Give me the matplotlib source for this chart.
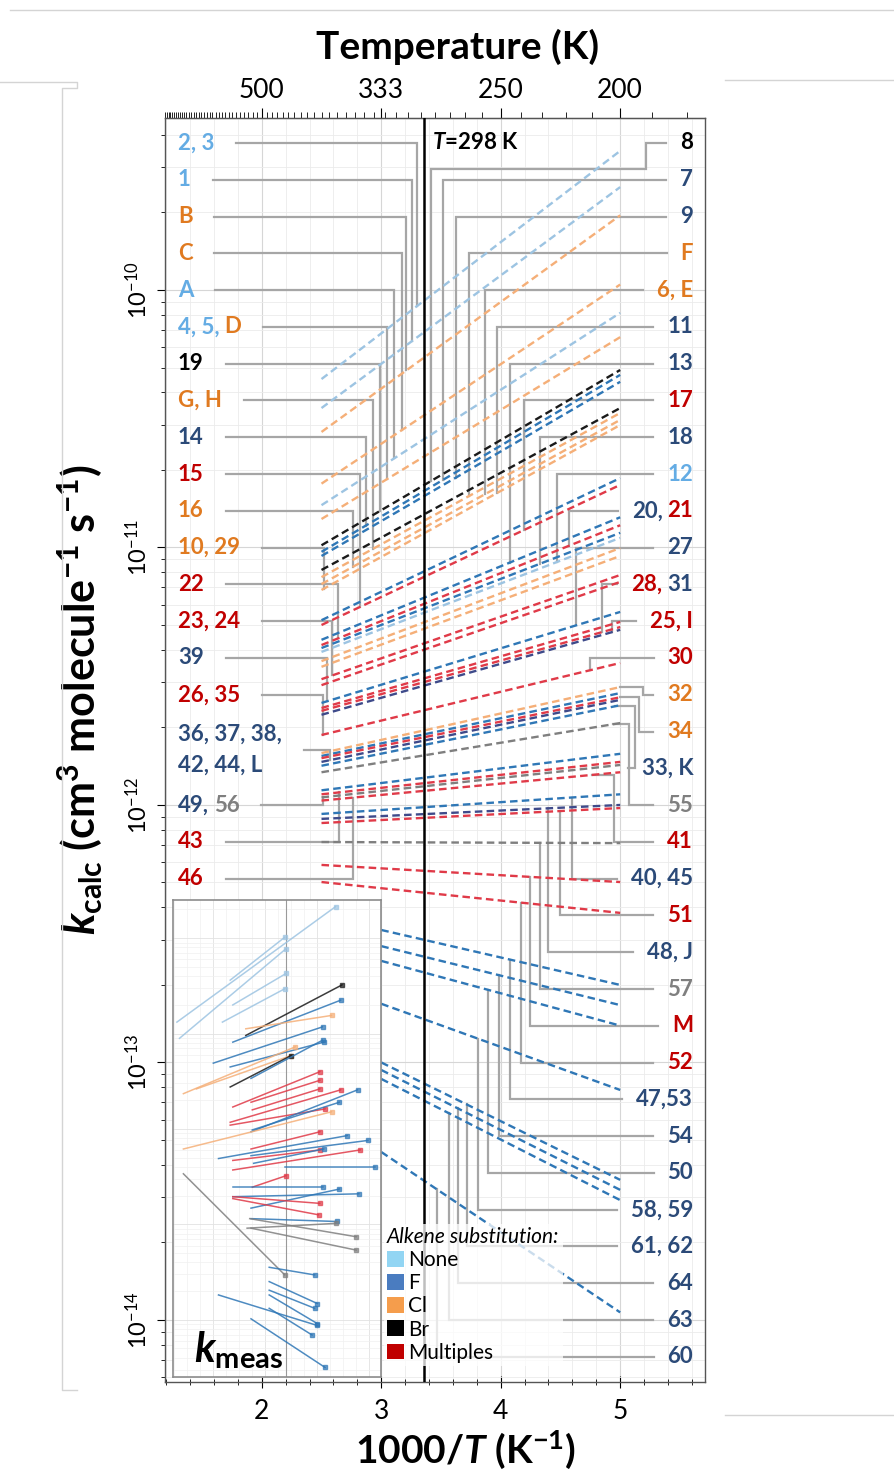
import numpy as np
import matplotlib
matplotlib.use("Agg")
import matplotlib.pyplot as plt
from matplotlib import transforms as mtransforms
from matplotlib.lines import Line2D
from matplotlib.patches import Patch
from matplotlib.ticker import FixedLocator, LogLocator, MultipleLocator, NullFormatter

plt.rcParams["font.family"] = ["Lato", "DejaVu Sans"]
plt.rcParams["mathtext.fontset"] = "custom"
plt.rcParams["mathtext.rm"] = "Lato:bold"
plt.rcParams["mathtext.it"] = "Lato:italic:bold"
plt.rcParams["mathtext.bf"] = "Lato:bold"

# ---- calculated rate coefficients (dashed lines) ----
# warm end temperature (K), k there, and k at 200 K
T_COLD = 200.0
calc_t_warm = [400, 400, 400, 400, 400, 400,
               400, 400, 400, 400, 400, 400, 400,
               400, 400, 400, 400, 400, 400, 400, 400, 400, 400,
               400, 400, 400, 400, 400,
               400, 400, 400, 400, 400, 400,
               400, 400, 400, 400, 400, 400, 400,
               400, 400, 400,
               333.3, 333.3, 333.3, 333.3, 333.3, 333.3, 333.3, 333.3]
calc_k_warm = [4.51e-11, 3.48e-11, 2.81e-11, 1.77e-11, 1.46e-11, 1.29e-11,
               1.02e-11, 9.62e-12, 9.27e-12, 8.18e-12, 7.67e-12, 7.21e-12, 6.84e-12,
               5.22e-12, 5.00e-12, 4.38e-12, 4.18e-12, 4.07e-12, 3.93e-12, 3.62e-12,
               3.44e-12, 3.08e-12, 2.92e-12,
               2.49e-12, 2.38e-12, 2.32e-12, 2.24e-12, 1.87e-12,
               1.59e-12, 1.55e-12, 1.52e-12, 1.47e-12, 1.42e-12, 1.34e-12,
               1.14e-12, 1.10e-12, 1.07e-12, 1.04e-12, 9.23e-13, 8.83e-13, 8.51e-13,
               7.18e-13, 5.85e-13, 5.02e-13,
               3.27e-13, 2.83e-13, 2.48e-13, 1.69e-13, 1.00e-13, 9.35e-14, 8.63e-14, 4.49e-14]
calc_k_cold = [3.47e-10, 2.51e-10, 1.95e-10, 1.05e-10, 8.15e-11, 6.56e-11,
               4.89e-11, 4.68e-11, 4.40e-11, 3.48e-11, 3.33e-11, 3.13e-11, 2.99e-11,
               1.86e-11, 1.75e-11, 1.31e-11, 1.22e-11, 1.14e-11, 1.09e-11, 9.95e-12,
               9.27e-12, 7.82e-12, 7.35e-12,
               5.62e-12, 5.14e-12, 4.91e-12, 4.79e-12, 3.56e-12,
               2.87e-12, 2.72e-12, 2.62e-12, 2.56e-12, 2.44e-12, 2.08e-12,
               1.58e-12, 1.47e-12, 1.43e-12, 1.34e-12, 1.10e-12, 1.00e-12, 9.73e-13,
               7.11e-13, 5.02e-13, 3.81e-13,
               2.00e-13, 1.67e-13, 1.39e-13, 7.82e-14, 3.50e-14, 3.20e-14, 2.92e-14, 1.07e-14]
calc_group = ["N", "N", "Cl", "Cl", "N", "Cl",
              "Br", "F", "F", "Br", "Cl", "Cl", "Cl",
              "F", "M", "F", "M", "F", "N", "Cl", "Cl", "M", "M",
              "F", "M", "M", "D", "M",
              "Cl", "F", "M", "D", "F", "G",
              "F", "M", "G", "M", "F", "D", "M",
              "G", "M", "M",
              "F", "F", "F", "F", "F", "F", "F", "F"]

# ---- measured rate coefficients (inset) ----
ins_x1 = [2.52, 2.54, 2.93, 2.95, 2.87, 3.05, 2.95, 3.05, 2.80, 2.93, 2.57, 2.67,
          2.93, 3.09, 2.95, 3.09, 3.10, 2.93, 2.93, 3.09, 3.10, 2.57, 3.09, 2.84,
          3.09, 2.95, 3.11, 2.95, 3.35, 3.10, 2.95, 3.09, 2.95, 2.95, 2.95, 3.09,
          3.06, 3.08, 3.09, 2.57, 3.23, 3.23, 3.23, 3.23, 2.84, 3.23, 3.09]
ins_x2 = [3.74, 3.36, 3.35, 3.36, 3.35, 3.79, 3.78, 3.71, 3.64, 3.65, 3.43, 3.40,
          3.40, 3.64, 3.62, 3.62, 3.62, 3.78, 3.66, 3.91, 3.77, 3.71, 3.62, 3.83,
          3.99, 3.62, 3.65, 3.93, 4.04, 3.36, 3.64, 3.77, 3.92, 3.62, 3.61, 3.75,
          3.74, 3.90, 3.90, 3.35, 3.58, 3.60, 3.58, 3.60, 3.60, 3.56, 3.66]
ins_logk1 = [-10.88, -11.05, -10.44, -10.70, -10.88, -11.02, -11.09, -10.95, -11.31,
             -11.35, -11.63, -11.58, -11.56, -11.47, -11.77, -11.72, -11.80, -11.93,
             -11.96, -12.03, -12.01, -12.21, -12.21, -12.31, -12.28, -12.33, -12.36,
             -12.43, -12.40, -12.61, -12.61, -12.83, -12.71, -12.71, -12.73, -12.94,
             -13.04, -12.94, -13.04, -12.47, -13.45, -13.60, -13.69, -13.74, -13.74,
             -13.88, -13.99]
ins_logk2 = [-9.67, -10.11, -9.99, -10.37, -10.53, -10.49, -10.65, -10.81, -10.93,
             -11.09, -11.14, -11.23, -11.23, -11.07, -11.40, -11.49, -11.58, -11.59,
             -11.79, -11.59, -11.72, -11.82, -12.03, -12.07, -12.12, -12.22, -12.21,
             -12.22, -12.40, -12.49, -12.61, -12.63, -12.68, -12.78, -12.90, -12.97,
             -12.99, -13.13, -13.27, -13.53, -13.53, -13.83, -13.88, -14.04, -14.06,
             -14.16, -14.50]
ins_group = ["N", "N", "N", "N", "N", "Br", "F", "Cl", "F", "F", "Cl", "Cl",
             "Br", "F", "M", "M", "M", "M", "M", "F", "F", "Cl", "M", "F",
             "F", "M", "F", "M", "F", "M", "F", "F", "F", "M", "M", "F",
             "G", "G", "G", "G", "F", "F", "F", "F", "F", "F", "F"]

# ---- labels: (coloured parts, row, line number, x of the leader drop) ----
left_labels = [
    ([("2, 3", "lb")], 0, 1, 3.30),
    ([("1", "lb")], 1, 2, 3.26),
    ([("B", "or")], 2, 3, 3.21),
    ([("C", "or")], 3, 4, 3.17),
    ([("A", "lb")], 4, 5, 3.11),
    ([("4, 5,", "lb"), ("D", "or")], 5, 6, 3.05),
    ([("19", "bk")], 6, 7, 2.99),
    ([("G, H", "or")], 7, 11, 2.93),
    ([("14", "db")], 8, 8, 2.87),
    ([("15", "rd")], 9, 15, 2.82),
    ([("16", "or")], 10, 12, 2.76),
    ([("10, 29", "or")], 11, 13, 2.52),
    ([("22", "rd")], 12, 17, 2.64),
    ([("23, 24", "rd")], 13, 22, 2.59),
    ([("39", "db")], 14, 24, 2.545),
    ([("26, 35", "rd")], 15, 28, 2.51),
    ([("36, 37, 38,\n42, 44, L", "db")], 16.5, 32, 2.57),
    ([("49,", "db"), ("56", "gy")], 18, 37, 2.515),
    ([("43", "rd")], 19, 36, 2.65),
    ([("46", "rd")], 20, 38, 2.76),
]
# (parts, row, line, x drop, x of elbow or None, row of jog or None)
right_labels = [
    ([("8", "bk")], 0, 7, 3.414, 5.213, 0.7),
    ([("7", "db")], 1, 8, 3.515, None, None),
    ([("9", "db")], 2, 9, 3.623, None, None),
    ([("F", "or")], 3, 11, 3.732, None, None),
    ([("6, E", "or")], 4, 12, 3.866, None, None),
    ([("11", "db")], 5, 13, 3.967, None, None),
    ([("13", "db")], 6, 16, 4.075, None, None),
    ([("17", "rd")], 7, 15, 4.192, None, None),
    ([("18", "db")], 8, 18, 4.326, None, None),
    ([("12", "lb")], 9, 19, 4.469, None, None),
    ([("20,", "db"), ("21", "rd")], 10, 17, 4.569, None, None),
    ([("27", "db")], 11, 24, 4.63, None, None),
    ([("28,", "rd"), ("31", "db")], 12, 26, 4.85, None, None),
    ([("25, I", "rd")], 13, 27, 4.93, None, None),
    ([("30", "rd")], 14, 28, 4.745, None, None),
    ([("32", "or")], 15, 29, 5.0, 5.19, None),
    ([("34", "or")], 16, 31, 5.0, 5.155, None),
    ([("33, K", "db")], 17, 33, 4.96, 5.12, None),
    ([("55", "gy")], 18, 34, 4.94, 5.07, None),
    ([("41", "rd")], 19, 38, 4.76, 4.95, None),
    ([("40, 45", "db")], 20, 39, 4.594, None, None),
    ([("51", "rd")], 21, 41, 4.494, None, None),
    ([("48, J", "db")], 22, 40, 4.393, None, None),
    ([("57", "gy")], 23, 42, 4.326, None, None),
    ([("M", "rd")], 24, 43, 4.243, None, None),
    ([("52", "rd")], 25, 44, 4.167, None, None),
    ([("47,53", "db")], 26, 45, 4.075, None, None),
    ([("54", "db")], 27, 46, 3.983, None, None),
    ([("50", "db")], 28, 47, 3.891, None, None),
    ([("58, 59", "db")], 29, 48, 3.808, None, None),
    ([("61, 62", "db")], 30, 49, 3.715, None, None),
    ([("64", "db")], 31, 50, 3.640, None, None),
    ([("63", "db")], 32, 51, 3.565, None, None),
    ([("60", "db")], 33, 52, 3.464, None, None),
]

legend_names = ["None", "F", "Cl", "Br", "Multiples"]
legend_colors = ["#92D5F3", "#4A7CC0", "#F59D4C", "#000000", "#C00000"]

top_T_ticks = [500, 1000 / 3, 250, 200]
top_T_labels = ["500", "333", "250", "200"]
y_decades = [1e-14, 1e-13, 1e-12, 1e-11, 1e-10]

LINE_COL = {"N": "#9DC4E2", "F": "#2F77B6", "Cl": "#F5AF78", "Br": "#1A1A1A",
            "M": "#E03A48", "G": "#7F7F7F", "D": "#3E4A8A"}
TXT_COL = {"lb": "#64ACE4", "or": "#E07A20", "db": "#2B4A78", "rd": "#C00000",
           "bk": "#000000", "gy": "#7F7F7F"}
LEADER = "#A6A6A6"
LABEL_FS = 16

W, H = 894, 1475
fig = plt.figure(figsize=(W / 100, H / 100), dpi=100)
ax = fig.add_axes([165 / W, 1 - 1382 / H, 540 / W, 1264 / H])

XMIN, XMAX = 1.19, 5.71
LOG_TOP, LOG_BOT = -9.332, -14.241
ax.set_xlim(XMIN, XMAX)
ax.set_yscale("log")
ax.set_ylim(10 ** LOG_BOT, 10 ** LOG_TOP)

ax.set_axisbelow(True)
ax.xaxis.set_major_locator(FixedLocator([2, 3, 4, 5]))
ax.xaxis.set_minor_locator(MultipleLocator(0.2))
ax.yaxis.set_major_locator(FixedLocator(y_decades))
ax.yaxis.set_minor_locator(LogLocator(base=10, subs=np.arange(2, 10), numticks=20))
ax.yaxis.set_minor_formatter(NullFormatter())
ax.grid(which="major", color="#d6d6d6", lw=0.8)
ax.grid(which="minor", color="#ebebeb", lw=0.6)
ax.tick_params(axis="x", which="major", direction="inout", length=9, labelsize=19, pad=8)
ax.tick_params(axis="x", which="minor", direction="inout", length=5)
ax.tick_params(axis="y", which="major", direction="out", length=6, labelsize=17,
               labelrotation=90, pad=4)
ax.tick_params(axis="y", which="minor", direction="out", length=3)
for lab in ax.get_yticklabels():
    lab.set_va("center")
for s in ax.spines.values():
    s.set_color("#555555")
    s.set_linewidth(1.0)

# top temperature axis
def to_T(x):
    x = np.asarray(x, dtype=float)
    with np.errstate(divide="ignore"):
        return 1000.0 / x

sec = ax.secondary_xaxis("top", functions=(to_T, to_T))
sec.set_xticks(top_T_ticks, labels=top_T_labels)
sec.xaxis.set_minor_locator(FixedLocator(np.arange(180, 850, 10)))
sec.tick_params(which="major", direction="out", length=7, labelsize=19)
sec.tick_params(which="minor", direction="out", length=4)
sec.spines["top"].set_color("#333333")

# dashed calculated lines
def k_at(i, x):
    x1, x2 = 1000.0 / calc_t_warm[i], 1000.0 / T_COLD
    l1, l2 = np.log10(calc_k_warm[i]), np.log10(calc_k_cold[i])
    return 10 ** (l1 + (l2 - l1) * (x - x1) / (x2 - x1))

for i in range(len(calc_k_warm)):
    ax.plot([1000.0 / calc_t_warm[i], 1000.0 / T_COLD], [calc_k_warm[i], calc_k_cold[i]],
            color=LINE_COL[calc_group[i]], lw=1.7, ls=(0, (3.2, 1.8)), zorder=3)

# T = 298 K
x298 = 1000.0 / 298
ax.axvline(x298, color="black", lw=1.8, zorder=5)

def row_y(r):
    return 10 ** (-9.429 - r / 7.0)

ax.text(x298 + 0.07, row_y(0), "$T$=298 K", fontsize=16, fontweight="bold",
        ha="left", va="center", zorder=6)

renderer = fig.canvas.get_renderer()
GAP = 0.22 * LABEL_FS * 100 / 72


def multi_text(x, y, parts, ha):
    seq = parts if ha == "left" else parts[::-1]
    off = 0.0
    boxes = []
    for s, c in seq:
        tr = mtransforms.offset_copy(ax.transData, fig=fig, x=off, y=0, units="dots")
        t = ax.text(x, y, s, color=TXT_COL[c], fontsize=LABEL_FS, fontweight="bold", ha=ha,
                    va="center", transform=tr, zorder=6, linespacing=1.62)
        bb = t.get_window_extent(renderer=renderer)
        boxes.append(bb)
        w = bb.width + GAP
        off += w if ha == "left" else -w
    return min(b.x0 for b in boxes), max(b.x1 for b in boxes)


def data_x(px, y):
    disp = ax.transData.transform((XMIN, y))
    return ax.transData.inverted().transform((px, disp[1]))[0]


def draw_leader(xs, ys):
    ax.plot(xs, ys, color=LEADER, lw=1.6, zorder=2, solid_joinstyle="miter")


for parts, row, line, xv in left_labels:
    y = row_y(row)
    x0, x1 = multi_text(1.297, y, parts, "left")
    xs = data_x(x1 + 22, y)
    kt = k_at(line - 1, xv)
    draw_leader([xs, xv, xv], [y, y, kt])

for parts, row, line, xv, xj, yj in right_labels:
    y = row_y(row)
    x0, x1 = multi_text(5.611, y, parts, "right")
    xs = data_x(x0 - 14, y)
    kt = k_at(line - 1, min(xv, 5.0))
    if xj is None:
        draw_leader([xs, xv, xv], [y, y, kt])
    elif yj is None:
        draw_leader([xs, xj, xj, xv], [y, y, kt, kt])
    else:
        yy = row_y(yj)
        draw_leader([xs, xj, xj, xv, xv], [y, y, yy, yy, kt])

# legend
handles = [Patch(facecolor=c, edgecolor="none", label=n)
           for n, c in zip(legend_names, legend_colors)]
leg = ax.legend(handles=handles, title="Alkene substitution:", loc="upper left",
                bbox_to_anchor=(384 / W, 1 - 1224 / H), bbox_transform=fig.transFigure,
                frameon=True, framealpha=0.75, edgecolor="none", fancybox=False,
                fontsize=15, title_fontsize=15, handlelength=0.8, handleheight=0.8,
                handletextpad=0.2, labelspacing=0.15, borderpad=0.15,
                borderaxespad=0, alignment="left")
leg.get_title().set_fontstyle("italic")
leg.set_zorder(10)

# axis titles
ax.set_ylabel(r"$k_{\mathrm{calc}}$ (cm$^{\mathrm{3}}$ molecule$^{\mathrm{-1}}$ s$^{\mathrm{-1}}$)",
              fontsize=31, fontweight="bold")
ax.yaxis.set_label_coords(-0.112, 0.54)
fig.text(458 / W, 1 - 47 / H, "Temperature (K)", fontsize=28, fontweight="bold",
         ha="center", va="center")
fig.text(465 / W, 1 - 1450 / H, r"1000/$T$ (K$^{\mathrm{-1}}$)", fontsize=28,
         fontweight="bold", ha="center", va="center")

# inset with measured values
ins = fig.add_axes([173 / W, 1 - 1377 / H, 208 / W, 477 / H], zorder=6)
ins.set_facecolor("white")
ins.set_xlim(2.49, 4.09)
ins.set_yscale("log")
ins.set_ylim(10 ** -14.6, 10 ** -9.6)
ins.xaxis.set_major_locator(MultipleLocator(0.4))
ins.xaxis.set_minor_locator(MultipleLocator(0.1))
ins.yaxis.set_major_locator(FixedLocator(y_decades))
ins.yaxis.set_minor_locator(LogLocator(base=10, subs=np.arange(2, 10), numticks=20))
ins.grid(which="major", color="#e2e2e2", lw=0.6)
ins.grid(which="minor", color="#f0f0f0", lw=0.5)
ins.set_axisbelow(True)
ins.tick_params(which="both", length=0, labelleft=False, labelbottom=False)
for s in ins.spines.values():
    s.set_color("#8c8c8c")
    s.set_linewidth(1.2)
ins.axvline(x298, color="#9a9a9a", lw=0.8)
for i in range(len(ins_x1)):
    col = LINE_COL[ins_group[i]]
    ins.plot([ins_x1[i], ins_x2[i]], [10 ** ins_logk1[i], 10 ** ins_logk2[i]],
             color=col, lw=1.1, alpha=0.85)
    ins.plot([ins_x2[i]], [10 ** ins_logk2[i]], marker="s", ms=2.2, color=col, alpha=0.7)
ins.text(0.1, 0.012, r"$k_{\mathrm{meas}}$", transform=ins.transAxes, fontsize=30,
         ha="left", va="bottom")

# page decoration lines around the figure
def page_line(xs, ys):
    fig.add_artist(Line2D([x / W for x in xs], [1 - y / H for y in ys],
                          color="#d4d4d4", lw=1.0))

page_line([10, 894], [10, 10])
page_line([0, 77, 77, 62, 62, 77], [82, 82, 88, 88, 1390, 1390])
page_line([725, 894], [80, 80])
page_line([725, 894], [1415, 1415])

fig.savefig("out.png", dpi=100)
